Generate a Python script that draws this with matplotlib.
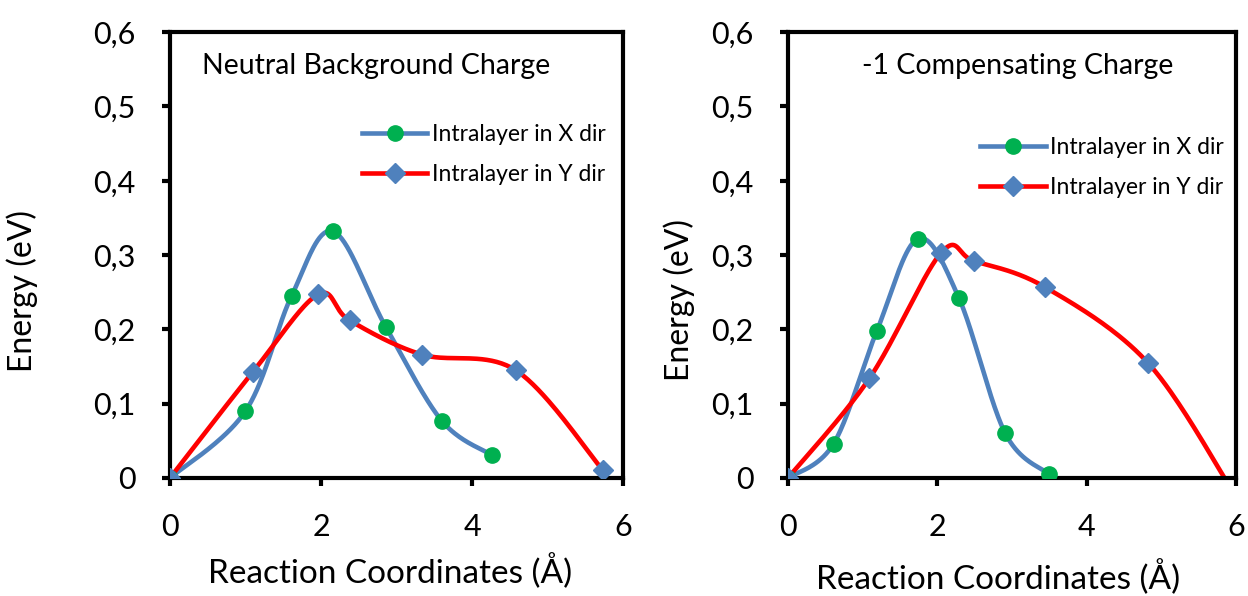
import matplotlib
matplotlib.use("Agg")
import matplotlib.pyplot as plt
import numpy as np
from matplotlib.ticker import FuncFormatter

plt.rcParams['font.family'] = ['Lato', 'DejaVu Sans']

# left panel: neutral background charge
x_left_X = [0.0, 1.0, 1.61, 2.16, 2.86, 3.60, 4.26]
e_left_X = [0.0, 0.090, 0.245, 0.332, 0.203, 0.077, 0.031]
x_left_Y = [0.0, 1.10, 1.96, 2.38, 3.34, 4.58, 5.73]
e_left_Y = [0.0, 0.143, 0.247, 0.212, 0.166, 0.145, 0.011]

# right panel: -1 compensating charge
x_right_X = [0.0, 0.61, 1.19, 1.74, 2.29, 2.91, 3.50]
e_right_X = [0.0, 0.046, 0.198, 0.322, 0.242, 0.060, 0.005]
x_right_Y = [0.0, 1.09, 2.05, 2.49, 3.44, 4.82, 5.98]
e_right_Y = [0.0, 0.134, 0.303, 0.292, 0.257, 0.155, -0.022]

titles = ["Neutral Background Charge", "-1 Compensating Charge"]
labels = ["Intralayer in X dir", "Intralayer in Y dir"]


def smooth(xs, ys, n=40):
    # excel-like smoothed line: bezier segments from catmull-rom tangents
    p = np.column_stack([xs, ys])
    pts = [p[0]]
    for i in range(len(p) - 1):
        p0 = p[i - 1] if i > 0 else p[i]
        p3 = p[i + 2] if i + 2 < len(p) else p[i + 1]
        c1 = p[i] + (p[i + 1] - p0) / 6
        c2 = p[i + 1] - (p3 - p[i]) / 6
        t = np.linspace(0, 1, n)[1:, None]
        seg = ((1 - t) ** 3 * p[i] + 3 * (1 - t) ** 2 * t * c1
               + 3 * (1 - t) * t ** 2 * c2 + t ** 3 * p[i + 1])
        pts.extend(seg)
    pts = np.array(pts)
    return pts[:, 0], pts[:, 1]


fig = plt.figure(figsize=(12.48, 5.96), dpi=100)
ax1 = fig.add_axes([0.1362, 0.198, 0.363, 0.748])
ax2 = fig.add_axes([0.6314, 0.198, 0.359, 0.748])

comma = FuncFormatter(lambda v, pos: ("%g" % round(v, 2)).replace('.', ','))

data = [(ax1, x_left_X, e_left_X, x_left_Y, e_left_Y),
        (ax2, x_right_X, e_right_X, x_right_Y, e_right_Y)]

# per-panel placement (axes fractions)
leg_pos = [(0.424, 0.795), (0.429, 0.765)]
title_x = [0.071, 0.165]
ylab_pos = [(-0.291, 0.42), (-0.208, 0.40)]
xlab_pos = [(0.486, -0.168), (0.469, -0.182)]

for k, (ax, xa, ea, xb, eb) in enumerate(data):
    sx, sy = smooth(xa, ea)
    ax.plot(sx, sy, color='#4F81BD', lw=3.3, zorder=2)
    ax.plot(xa, ea, 'o', color='#00B050', ms=11, zorder=3)
    sx, sy = smooth(xb, eb)
    ax.plot(sx, sy, color='#FF0000', lw=3.3, zorder=2)
    ax.plot(xb, eb, 'D', color='#4F81BD', ms=10, zorder=4)

    # legend proxies
    hx = ax.plot([], [], color='#4F81BD', lw=3.3, marker='o',
                 mfc='#00B050', mec='#00B050', ms=11)[0]
    hy = ax.plot([], [], color='#FF0000', lw=3.3, marker='D',
                 mfc='#4F81BD', mec='#4F81BD', ms=10)[0]
    ax.legend([hx, hy], labels, loc='upper left', bbox_to_anchor=leg_pos[k],
              frameon=False, fontsize=16.5, handlelength=2.85,
              handletextpad=0.2, labelspacing=0.85, borderpad=0,
              borderaxespad=0)

    ax.set_xlim(0, 6)
    ax.set_ylim(0, 0.6)
    ax.set_xticks([0, 2, 4, 6])
    ax.set_yticks(np.arange(0, 0.61, 0.1))
    ax.yaxis.set_major_formatter(comma)
    ax.tick_params(labelsize=22, width=3, length=6, direction='out',
                   pad=19)
    for s in ax.spines.values():
        s.set_linewidth(3)
        s.set_color('black')
    ax.set_xlabel("Reaction Coordinates (Å)", fontsize=24)
    ax.set_ylabel("Energy (eV)", fontsize=23)
    ax.xaxis.set_label_coords(*xlab_pos[k])
    ax.yaxis.set_label_coords(*ylab_pos[k])
    ax.text(title_x[k], 0.924, titles[k], transform=ax.transAxes,
            fontsize=20.5, va='center', ha='left')

fig.savefig("out.png", dpi=100)
